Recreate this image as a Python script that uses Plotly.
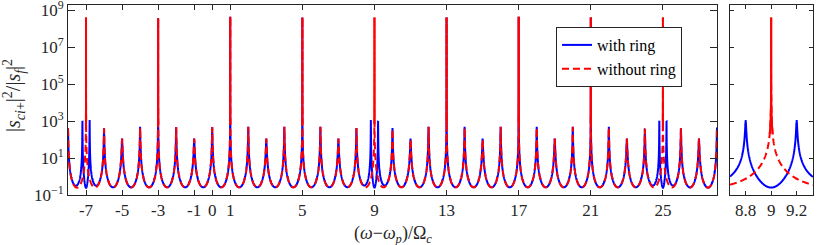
import numpy as np
import plotly.graph_objects as go

# ---------------- data ----------------
# integer mode positions (in units of Omega_c) and log10 peak heights (without ring)
mode_n = list(range(-9, 30))
mode_peak_log = [2.0,                                   # -9 (outside view)
                 2.55, 8.6, 2.55, 2.0, 2.64, 8.55, 2.62, 2.0, 2.62,   # -8 .. 0
                 8.64, 2.64, 2.0, 2.64, 8.6, 2.64, 2.0, 2.57, 8.6,    # 1 .. 9
                 2.57, 2.0, 2.64, 8.6, 2.64, 2.0, 2.64, 8.64, 2.64,   # 10 .. 18
                 2.0, 2.64, 8.6, 2.64, 2.0, 2.55, 8.6, 2.55, 2.0,     # 19 .. 27
                 2.6, 8.6]                               # 28, 29
trough_log = -0.58            # log10 level half-way between modes

# modes coupled to the ring (blue curve splits there)
ring_modes = [-7, 9, 25]
ring_split = 0.2              # split peaks at +-0.2
ring_peak_log = 3.0           # height of split peaks
ring_center_log = -0.6        # blue level at ring mode centre
ring_edge_offset = -0.323     # offset where blue was read ...
ring_edge_log = 0.0           # ... at this level

main_ticks = [-7, -5, -3, -1, 0, 1, 5, 9, 13, 17, 21, 25]
main_tick_text = ["-7", "-5", "-3", "-1", "0", "1", "5", "9", "13", "17", "21", "25"]
zoom_ticks = [8.8, 9, 9.2]
zoom_tick_text = ["8.8", "9", "9.2"]
y_ticks = [1e-1, 1e1, 1e3, 1e5, 1e7, 1e9]
y_tick_text = ["10<sup>−1</sup>", "10<sup>1</sup>", "10<sup>3</sup>",
               "10<sup>5</sup>", "10<sup>7</sup>", "10<sup>9</sup>"]

# ---------------- curve construction ----------------
C = 10 ** trough_log / np.pi ** 2          # common Lorentzian wing constant
heights = dict(zip(mode_n, [10 ** v for v in mode_peak_log]))


def lorentz_sum(x, skip=()):
    y = np.zeros_like(x)
    for n, h in heights.items():
        if n in skip:
            continue
        y += C / ((x - n) ** 2 + C / h)
    return y


# ring lineshape parameters derived from the read levels
g = ring_split
others0 = lorentz_sum(np.array([9.0]), skip=ring_modes)[0]
otherse = lorentz_sum(np.array([9.0 + ring_edge_offset]), skip=ring_modes)[0]
othersg = lorentz_sum(np.array([9.0 - g]), skip=ring_modes)[0]
A0 = (10 ** ring_center_log - others0) * g ** 4
de = ring_edge_offset
Ae = (10 ** ring_edge_log - otherse) * (de ** 2 - g ** 2) ** 2
K = (Ae - A0) / de ** 2
eps = A0 / K
eta = K * (g ** 2 + eps) / (10 ** ring_peak_log - othersg)


def ring_term(d):
    return K * (d ** 2 + eps) / ((d ** 2 - g ** 2) ** 2 + eta)


def red_curve(x):
    return lorentz_sum(x)


def blue_curve(x):
    y = lorentz_sum(x, skip=ring_modes)
    for n in ring_modes:
        y += ring_term(x - n)
    return y


def make_grid(lo, hi, step):
    pts = [np.arange(lo, hi + step / 2, step)]
    offs = np.geomspace(1e-7, 0.06, 90)
    for n in mode_n:
        pts.append(n + offs)
        pts.append(n - offs)
        pts.append(np.array([float(n)]))
    offs2 = np.geomspace(1e-5, 0.06, 50)
    for n in ring_modes:
        for c in (n - g, n + g):
            pts.append(c + offs2)
            pts.append(c - offs2)
            pts.append(np.array([c]))
    x = np.unique(np.concatenate(pts))
    return x[(x >= lo) & (x <= hi)]


x_main = make_grid(-8.0, 28.0, 0.002)
x_zoom = make_grid(8.677, 9.328, 0.0005)

red_main = red_curve(x_main)
blue_main = blue_curve(x_main)
red_zoom = red_curve(x_zoom)
blue_zoom = blue_curve(x_zoom)

red_main_spike = np.where(red_main > 10 ** 2.7, red_main, np.nan)
red_zoom_spike = np.where(red_zoom > 10 ** 2.3, red_zoom, np.nan)

BLUE = "#0000ff"
RED = "#ff0000"
AX = "#262626"
FONT = "Liberation Serif"
DASH = "7px,4px"

fig = go.Figure()
fig.add_trace(go.Scatter(x=x_main, y=blue_main, mode="lines", name="with ring",
                         line=dict(color=BLUE, width=2, simplify=False),
                         xaxis="x", yaxis="y"))
fig.add_trace(go.Scatter(x=x_main, y=red_main, mode="lines", name="without ring",
                         line=dict(color=RED, width=2, dash=DASH, simplify=False),
                         xaxis="x", yaxis="y"))
fig.add_trace(go.Scatter(x=x_main, y=red_main_spike, mode="lines", showlegend=False,
                         line=dict(color=RED, width=2, simplify=False),
                         xaxis="x", yaxis="y"))
fig.add_trace(go.Scatter(x=x_zoom, y=blue_zoom, mode="lines", showlegend=False,
                         line=dict(color=BLUE, width=2, simplify=False),
                         xaxis="x2", yaxis="y2"))
fig.add_trace(go.Scatter(x=x_zoom, y=red_zoom, mode="lines", showlegend=False,
                         line=dict(color=RED, width=2, dash=DASH, simplify=False),
                         xaxis="x2", yaxis="y2"))
fig.add_trace(go.Scatter(x=x_zoom, y=red_zoom_spike, mode="lines", showlegend=False,
                         line=dict(color=RED, width=2, simplify=False),
                         xaxis="x2", yaxis="y2"))

axis_common = dict(showline=True, linecolor=AX, linewidth=1, mirror="allticks",
                   ticks="inside", tickcolor=AX, tickwidth=1, showgrid=False,
                   zeroline=False, automargin=False, ticklabeloverflow="allow",
                   tickfont=dict(family=FONT, size=17, color=AX))

W, H = 817, 245
L, R, T, B = 68, 4, 5, 50
pw = W - L - R
ph = H - T - B

fig.update_layout(
    template="none",
    width=W, height=H,
    margin=dict(l=L, r=R, t=T, b=B, autoexpand=False),
    plot_bgcolor="white", paper_bgcolor="white",
    font=dict(family=FONT, color=AX),
    hovermode=False,
    xaxis=dict(domain=[0, (717 - L) / pw], range=[-8, 28], tickmode="array",
               tickvals=main_ticks, ticktext=main_tick_text, ticklen=5,
               anchor="y", **axis_common),
    yaxis=dict(type="log", range=[-1, 9.27], tickmode="array", tickvals=y_ticks,
               ticktext=y_tick_text, ticklen=7, anchor="x", **axis_common),
    xaxis2=dict(domain=[(730 - L) / pw, 1], range=[8.677, 9.328], tickmode="array",
                tickvals=zoom_ticks, ticktext=zoom_tick_text, ticklen=4,
                anchor="y2", **axis_common),
    yaxis2=dict(type="log", range=[-1, 9.27], tickmode="array", tickvals=y_ticks,
                showticklabels=False, ticklen=4, anchor="x2", **axis_common),
    legend=dict(x=(556 - L) / pw, y=1 - (27 - T) / ph, xanchor="left", yanchor="top",
                bgcolor="white", bordercolor=AX, borderwidth=1,
                font=dict(family=FONT, size=16, color="black"),
                tracegroupgap=0, itemwidth=30),
    showlegend=True,
    annotations=[
        dict(text="|<i>s</i><sub><i>ci</i>+</sub>|<sup>2</sup>/|<i>s</i><sub><i>f</i></sub>|<sup>2</sup>",
             xref="paper", yref="paper", x=(14 - L) / pw, y=1 - (96 - T) / ph,
             textangle=-90, showarrow=False, xanchor="center", yanchor="middle",
             font=dict(family=FONT, size=20, color=AX)),
        dict(text="(<i>ω</i>−<i>ω</i><sub><i>p</i></sub>)/Ω<sub><i>c</i></sub>",
             xref="paper", yref="paper", x=(393 - L) / pw, y=1 - (234 - T) / ph,
             showarrow=False, xanchor="center", yanchor="middle",
             font=dict(family=FONT, size=18, color=AX)),
    ],
)

fig.write_html("out.html", config={"displayModeBar": False, "staticPlot": True},
               post_script="document.body.style.margin='0';document.body.style.padding='0';")
